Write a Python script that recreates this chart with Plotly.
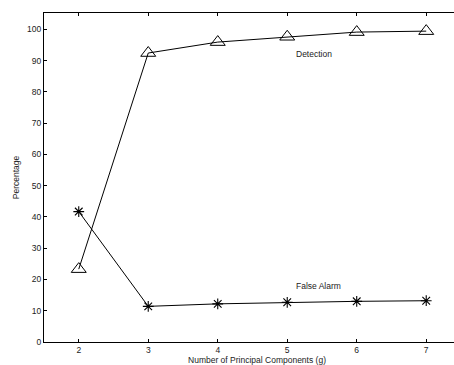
import plotly.graph_objects as go

components = [2, 3, 4, 5, 6, 7]
detection = [23.3, 92.4, 95.9, 97.6, 99.1, 99.4]
false_alarm = [41.7, 11.4, 12.2, 12.7, 13.0, 13.2]
y_ticks = [0, 10, 20, 30, 40, 50, 60, 70, 80, 90, 100]

fig = go.Figure()
fig.add_trace(go.Scatter(
    x=components, y=detection, mode="lines+markers",
    line=dict(color="black", width=1),
    marker=dict(symbol="triangle-up-open", size=13, color="black", line=dict(width=1)),
    showlegend=False,
))
fig.add_trace(go.Scatter(
    x=components, y=false_alarm, mode="lines+markers",
    line=dict(color="black", width=1),
    marker=dict(symbol="asterisk-open", size=9, color="black", line=dict(width=1.1, color="black")),
    showlegend=False,
))

fig.add_annotation(x=5.38, y=92.2, text="Detection", showarrow=False,
                   font=dict(family="Liberation Sans, Arial", size=8.5, color="#222"))
fig.add_annotation(x=5.45, y=18.0, text="False Alarm", showarrow=False,
                   font=dict(family="Liberation Sans, Arial", size=8.5, color="#222"))

axis_font = dict(family="Liberation Sans, Arial", size=8.5, color="#222")
fig.update_layout(
    width=470, height=365,
    margin=dict(l=44, r=0, t=13, b=23, autoexpand=False),
    plot_bgcolor="white", paper_bgcolor="white",
    xaxis=dict(
        range=[1.5, 7.63], tickvals=components, ticks="inside", ticklen=3,
        tickcolor="black", showline=True, linecolor="black", linewidth=1,
        mirror="ticks", showgrid=False, zeroline=False, tickfont=axis_font,
        automargin=False,
        title=dict(text="Number of Principal Components (g)", font=axis_font, standoff=1),
    ),
    yaxis=dict(
        range=[0, 105.2], tickvals=y_ticks, ticks="inside", ticklen=3,
        tickcolor="black", showline=True, linecolor="black", linewidth=1,
        showgrid=False, zeroline=False, tickfont=axis_font, automargin=False,
        title=dict(text="Percentage", font=axis_font, standoff=6),
    ),
)
fig.write_html("out.html", config={"displayModeBar": False},
               post_script="document.body.style.margin='0';document.body.style.overflow='hidden';")
